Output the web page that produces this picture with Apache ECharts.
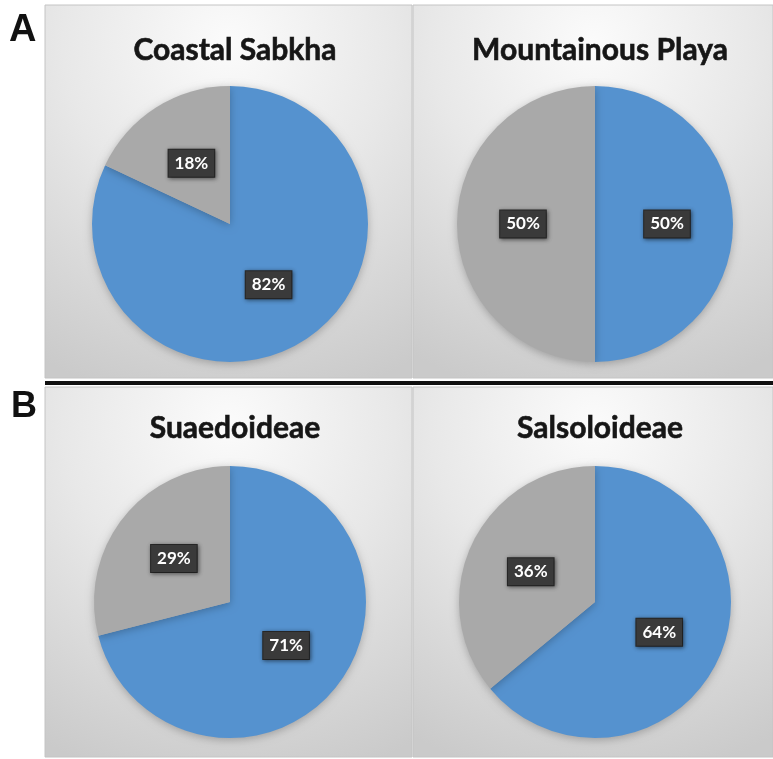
<!DOCTYPE html>
<html>
<head>
<meta charset="utf-8">
<script src="https://cdn.jsdelivr.net/npm/echarts@6/dist/echarts.min.js"></script>
<style>
  html, body { margin: 0; padding: 0; background: #ffffff; }
  #chart { width: 773px; height: 759px; }
</style>
</head>
<body>
<div id="chart"></div>
<script>
// Four habitat / subfamily groups, each split into two shares (percent)
const categories = ['Coastal Sabkha', 'Mountainous Playa', 'Suaedoideae', 'Salsoloideae'];
const blueShare = [82, 50, 71, 64];
const grayShare = [18, 50, 29, 36];
const panelLetters = ['A', 'B'];

const BLUE = '#5592CF';
const GRAY = '#A9A9A9';

// Panel boxes: [x, y, width, height]
const panels = [
  [45, 5, 367, 373],
  [413, 5, 360, 373],
  [45, 387, 367, 370],
  [413, 387, 360, 370]
];
const pieCenters = [[230, 224], [595, 224], [230, 602], [595, 602]];
const pieRadius = [138, 138, 136, 136];
const titleTops = [30, 30, 408, 408];

const chart = echarts.init(document.getElementById('chart'));

const graphic = [];
panels.forEach(function (p) {
  graphic.push({
    type: 'rect',
    shape: { x: p[0], y: p[1], width: p[2], height: p[3] },
    style: {
      fill: new echarts.graphic.RadialGradient(0.5, 0.1, 1.0, [
        { offset: 0, color: '#FBFBFB' },
        { offset: 0.45, color: '#E8E8E8' },
        { offset: 1, color: '#CACACA' }
      ]),
      stroke: '#C4C4C4',
      lineWidth: 1
    },
    z: -10
  });
});
// Heavy rule separating the two rows
graphic.push({
  type: 'rect',
  shape: { x: 45, y: 381, width: 728, height: 4 },
  style: { fill: '#111111' },
  z: -5
});
graphic.push({
  type: 'text', left: 9, top: 12,
  style: { text: panelLetters[0], fill: '#111', font: 'bold 38px "Liberation Sans", Arial, sans-serif' }
});
graphic.push({
  type: 'text', left: 11, top: 389,
  style: { text: panelLetters[1], fill: '#111', font: 'bold 36px "Liberation Sans", Arial, sans-serif' }
});

const titles = categories.map(function (name, i) {
  return {
    text: name,
    left: pieCenters[i][0],
    top: titleTops[i],
    textAlign: 'center',
    textStyle: {
      fontFamily: 'Lato',
      fontWeight: 'bold',
      fontSize: 30,
      color: '#161616',
      textBorderColor: '#161616',
      textBorderWidth: 0.6
    }
  };
});

const series = categories.map(function (name, i) {
  return {
    type: 'pie',
    name: name,
    center: pieCenters[i],
    radius: [0, pieRadius[i]],
    startAngle: 90,
    clockwise: true,
    silent: true,
    animation: false,
    itemStyle: {
      shadowBlur: 8,
      shadowColor: 'rgba(0,0,0,0.25)',
      shadowOffsetY: 2
    },
    label: {
      show: true,
      position: 'inside',
      formatter: '{c}%',
      fontFamily: 'Lato',
      fontWeight: 'bold',
      fontSize: 17,
      color: '#ffffff',
      backgroundColor: '#3a3a3a',
      padding: [6, 6, 4, 6],
      borderColor: '#2a2a2a',
      borderWidth: 1,
      shadowBlur: 4,
      shadowColor: 'rgba(0,0,0,0.45)',
      shadowOffsetX: 1,
      shadowOffsetY: 1
    },
    labelLine: { show: false },
    data: [
      { name: 'blue', value: blueShare[i], itemStyle: { color: BLUE } },
      { name: 'gray', value: grayShare[i], itemStyle: { color: GRAY } }
    ]
  };
});

chart.setOption({
  backgroundColor: '#ffffff',
  animation: false,
  title: titles,
  graphic: graphic,
  series: series
});
</script>
</body>
</html>
